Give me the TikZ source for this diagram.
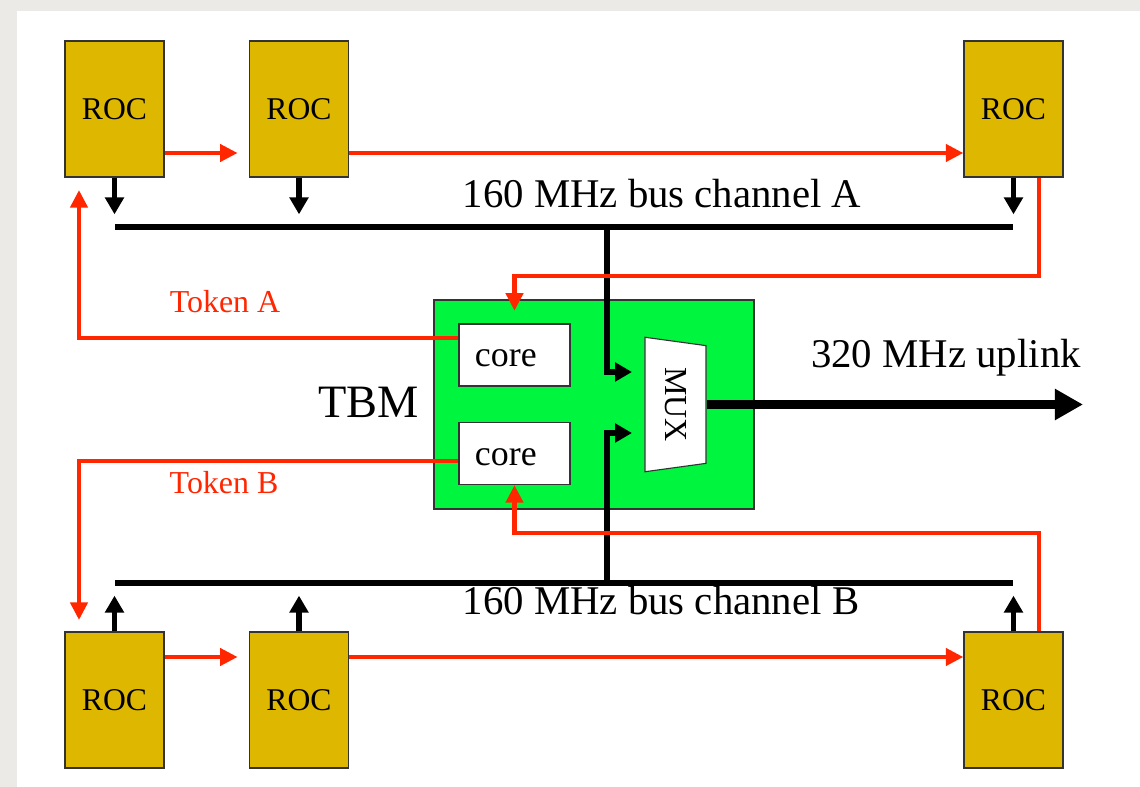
\documentclass[tikz,border=0pt]{standalone}
\usepackage{fontspec}
\setmainfont{Liberation Serif}
\usepackage{tikz}
\usetikzlibrary{shapes.geometric,arrows.meta,positioning,calc}
\usepackage{xcolor}

\definecolor{rocgold}{RGB}{222,183,0}
\definecolor{tbmgreen}{RGB}{0,245,62}
\definecolor{tokred}{RGB}{255,38,0}
\definecolor{bggray}{RGB}{236,234,230}

\tikzset{
  roc/.style={draw=black!80, line width=0.8pt, fill=rocgold, minimum width=2.475cm, minimum height=3.4cm, inner sep=0pt, font=\fontsize{22.5}{26}\selectfont},
  core/.style={draw=black!80, line width=0.8pt, fill=white, minimum width=2.775cm, minimum height=1.55cm, inner sep=0pt, text width=1.975cm, text height=17pt, text depth=0pt, align=left, font=\fontsize{25.5}{30}\selectfont},
  tbm/.style={draw=black!80, line width=0.8pt, fill=tbmgreen, minimum width=8cm, minimum height=5.225cm},
  mux/.style={draw=black!80, line width=0.8pt, fill=white, trapezium, trapezium stretches=true, trapezium angle=76, minimum width=3.375cm, minimum height=1.525cm, inner sep=0pt, font=\fontsize{22.8}{26}\selectfont},
  busline/.style={line width=4pt},
  busarrow/.style={line width=4pt, -{Triangle[length=12pt,width=13pt]}},
  uplink/.style={line width=6.8pt, -{Triangle[length=20pt,width=21pt]}},
  tokenarrow/.style={tokred, line width=3.5pt, -{Triangle[length=12.5pt,width=12pt]}},
  buslabel/.style={font=\fontsize{29}{34}\selectfont},
  toklabel/.style={tokred, font=\fontsize{22.7}{26}\selectfont},
  tbmlabel/.style={font=\fontsize{33}{38}\selectfont}
}

\begin{document}
\begin{tikzpicture}[x=0.025cm, y=-0.025cm]
  \useasboundingbox (0,0) rectangle (1140,787);
  \fill[bggray] (0,0) rectangle (1140,787);
  \fill[white] (17,11) rectangle (1140,787);

  % TBM with its two cores and the multiplexer
  \node[tbm] (tbm) at (594,404.5) {};
  \node[core] (coreA) at (514.5,355) {core};
  \node[core] (coreB) at (514.5,453.5) {core};
  \node[mux, rotate=-90] (mux) at (675.5,404.5) {MUX};
  \node[tbmlabel, anchor=base east] (tbmtext) at (424,418) {TBM};

  % read out chips
  \node[roc] (roc1) at (114.5,109) {ROC};
  \node[roc] (roc2) at (299,109) {ROC};
  \node[roc] (roc3) at (1013.5,109) {ROC};
  \node[roc] (roc4) at (114.5,700) {ROC};
  \node[roc] (roc5) at (299,700) {ROC};
  \node[roc] (roc6) at (1013.5,700) {ROC};

  % helper points
  \coordinate (busAw) at (115,227);
  \coordinate (busAe) at (1013,227);
  \coordinate (busAtap) at (607,227);
  \coordinate (busBw) at (115,583);
  \coordinate (busBe) at (1013,583);
  \coordinate (busBtap) at (607,583);
  \coordinate (muxinA) at (632,372);
  \coordinate (muxinB) at (632,433);
  \coordinate (upend) at (1083,400);
  \coordinate (chainA) at (0,153);
  \coordinate (chainB) at (0,657);
  \coordinate (tokA) at (79,338);
  \coordinate (tokAend) at (79,190);
  \coordinate (tokB) at (79,461);
  \coordinate (tokBend) at (79,620);
  \coordinate (retA) at (1039,276);
  \coordinate (retB) at (1039,533);

  % buses
  \draw[busline] (busAw) -- (busAe);
  \draw[busline] (busBw) -- (busBe);
  \foreach \r in {roc1,roc2,roc3}
    \draw[busarrow, shorten >=9pt] (\r.south) -- (\r.south |- busAw);
  \foreach \r in {roc4,roc5,roc6}
    \draw[busarrow, shorten >=9pt] (\r.north) -- (\r.north |- busBw);
  \draw[busarrow] (busAtap) |- (muxinA);
  \draw[busarrow] (busBtap) |- (muxinB);
  \draw[uplink] (mux.north) -- (mux.north -| upend);

  % token passing
  \draw[tokenarrow, shorten >=8pt] (roc1.east |- chainA) -- (roc2.west |- chainA);
  \draw[tokenarrow] (roc2.east |- chainA) -- (roc3.west |- chainA);
  \draw[tokenarrow, shorten >=8pt] (roc4.east |- chainB) -- (roc5.west |- chainB);
  \draw[tokenarrow] (roc5.east |- chainB) -- (roc6.west |- chainB);
  \draw[tokenarrow] (coreA.west |- tokA) -- (tokA) -- (tokAend);
  \draw[tokenarrow] (coreB.west |- tokB) -- (tokB) -- (tokBend);
  \draw[tokenarrow, shorten >=9pt] (roc3.south -| retA) -- (retA) -| (coreA.north);
  \draw[tokenarrow] (roc6.north -| retB) -- (retB) -| (coreB.south);

  % labels
  \node[buslabel, anchor=base] (labA) at (662,208) {160 MHz bus channel A};
  \node[buslabel, anchor=base] (labB) at (661,614) {160 MHz bus channel B};
  \node[buslabel, anchor=base] (labup) at (946,368) {320 MHz uplink};
  \node[toklabel, anchor=base] (labtokA) at (225,313) {Token A};
  \node[toklabel, anchor=base] (labtokB) at (224,493) {Token B};
\end{tikzpicture}
\end{document}
